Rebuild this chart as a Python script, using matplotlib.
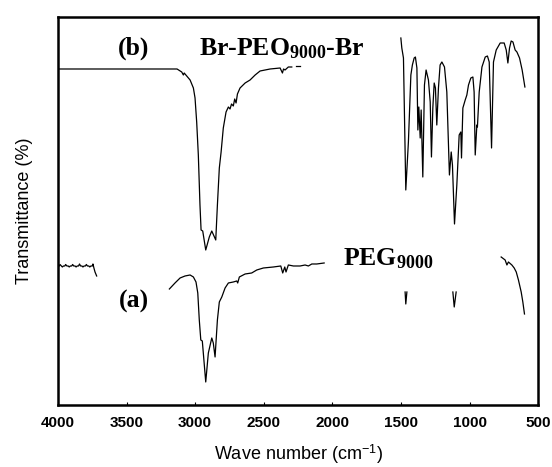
import matplotlib
matplotlib.use('Agg')
import matplotlib.pyplot as plt
from matplotlib.ticker import MultipleLocator

plt.rcParams['mathtext.fontset'] = 'custom'
plt.rcParams['mathtext.rm'] = 'Liberation Serif:bold'
plt.rcParams['mathtext.it'] = 'Liberation Serif:bold'
plt.rcParams['mathtext.bf'] = 'Liberation Serif:bold'
plt.rcParams['mathtext.sf'] = 'Liberation Sans'
plt.rcParams['mathtext.default'] = 'rm'

# (b) Br-PEO9000-Br, C-H stretching region
b_ch_wn = [4000, 3183, 3132, 3098, 3086, 3080, 3037, 3013, 3001, 2989, 2977, 2965,
           2957, 2945, 2923, 2897, 2879, 2850, 2838, 2824, 2811, 2795, 2775, 2758,
           2746, 2735, 2722, 2712, 2702, 2692, 2673, 2636, 2600, 2563, 2527, 2454,
           2381, 2364, 2356, 2345, 2321, 2296]
b_ch_t = [336, 336, 336, 333, 330, 332, 325, 317, 307, 283, 250, 200,
          175, 174, 155, 168, 174, 165, 200, 237, 253, 277, 293, 298,
          296, 301, 299, 306, 302, 311, 317, 322, 325, 330, 334, 336,
          337, 332, 336, 335, 338, 338]
b_dash_wn = [2265, 2235]
b_dash_t = [339, 339]

# (b) fingerprint region
b_fp_wn = [1501, 1494, 1482, 1465, 1446, 1428, 1417, 1404, 1395, 1384, 1377, 1370,
           1360, 1353, 1341, 1329, 1317, 1300, 1287, 1278, 1268, 1258, 1249, 1239,
           1227, 1215, 1202, 1183, 1166, 1147, 1134, 1125, 1110, 1093, 1076, 1064,
           1059, 1049, 1032, 1020, 1008, 991, 976, 967, 959, 947, 943, 930,
           910, 886, 870, 857, 840, 826, 806, 777, 748, 733, 721, 709,
           697, 684, 668, 655, 636, 617, 597]
b_fp_t = [367, 357, 347, 215, 263, 330, 340, 347, 348, 337, 275, 298,
          267, 295, 228, 320, 335, 325, 303, 248, 297, 322, 317, 280,
          317, 340, 343, 338, 313, 230, 253, 240, 181, 220, 270, 273,
          247, 297, 305, 310, 320, 327, 328, 313, 250, 280, 278, 313,
          338, 348, 349, 343, 257, 343, 355, 362, 362, 355, 342, 357,
          364, 363, 355, 353, 347, 335, 318]

# (a) PEG9000, noisy start
a_hi_wn = [4000, 3990, 3985, 3975, 3968, 3960, 3950, 3944, 3935, 3925, 3918, 3910,
           3900, 3893, 3885, 3875, 3868, 3860, 3850, 3843, 3835, 3825, 3818, 3810,
           3800, 3793, 3785, 3775, 3768, 3760, 3750, 3745, 3738, 3730, 3718]
a_hi_t = [139, 139, 140.5, 139, 138, 139, 139, 140.5, 139, 139, 138, 139,
          139, 140.5, 139, 139, 138, 139, 139, 141, 139, 139, 138, 139,
          139, 140.5, 139, 139, 138, 139, 139, 141, 137, 133, 129]

# (a) C-H stretching region
a_ch_wn = [3188, 3147, 3110, 3074, 3037, 3013, 2994, 2981, 2970, 2959, 2948, 2923,
           2904, 2879, 2868, 2855, 2838, 2824, 2806, 2782, 2758, 2722, 2697, 2690,
           2678, 2636, 2588, 2551, 2503, 2430, 2376, 2362, 2347, 2338, 2321, 2284,
           2235, 2199, 2175, 2150, 2114, 2060]
a_ch_t = [116, 122, 127, 129, 130, 128, 123, 112, 85, 65, 64, 23,
          52, 67, 62, 48, 85, 103, 108, 117, 122, 123, 124, 122,
          128, 131, 132, 135, 137, 138, 139, 132, 138, 133, 140, 139,
          139, 140, 139, 141, 141, 142]

# (a) fingerprint fragments
a_v1_wn = [1470, 1465, 1457]
a_v1_t = [113, 101, 113]
a_v2_wn = [1122, 1112, 1098]
a_v2_t = [113, 98, 113]
a_lo_wn = [770, 741, 728, 717, 692, 675, 660, 644, 624, 612, 600]
a_lo_t = [148, 145, 140, 143, 140, 137, 133, 125, 113, 103, 91]

fig = plt.figure(figsize=(5.52, 4.67), dpi=100)
ax = fig.add_axes([0.105, 0.1328, 0.87, 0.8308])

for wn, t in [(b_ch_wn, b_ch_t), (b_dash_wn, b_dash_t), (b_fp_wn, b_fp_t),
              (a_hi_wn, a_hi_t), (a_ch_wn, a_ch_t), (a_v1_wn, a_v1_t),
              (a_v2_wn, a_v2_t), (a_lo_wn, a_lo_t)]:
    ax.plot(wn, t, color='black', lw=0.9)

ax.set_xlim(4000, 500)
ax.set_ylim(0, 388)
ax.set_yticks([])
ax.xaxis.set_major_locator(MultipleLocator(500))
ax.tick_params(axis='x', direction='in', length=2, width=0.8, pad=8)
for lab in ax.get_xticklabels():
    lab.set_fontfamily('Liberation Sans')
    lab.set_fontweight('bold')
    lab.set_fontsize(11)
for s in ax.spines.values():
    s.set_linewidth(1.8)

ax.set_xlabel('Wave number (cm$^{\\mathsf{-1}}$)', fontfamily='Liberation Sans',
              fontsize=13, labelpad=9)
ax.set_ylabel('Transmittance (%)', fontfamily='Liberation Sans', fontsize=13,
              labelpad=18)

serif = dict(fontfamily='Liberation Serif', fontweight='bold', fontsize=18.5)
ax.text(3446, 357, '(b)', ha='center', va='center', **serif)
ax.text(2972, 350, 'Br-PEO$_{9000}$-Br', ha='left', va='baseline', **serif)
ax.text(3446, 104, '(a)', ha='center', va='center', **serif)
ax.text(1922, 140, 'PEG$_{9000}$', ha='left', va='baseline', **serif)

fig.savefig('out.png', dpi=100)
